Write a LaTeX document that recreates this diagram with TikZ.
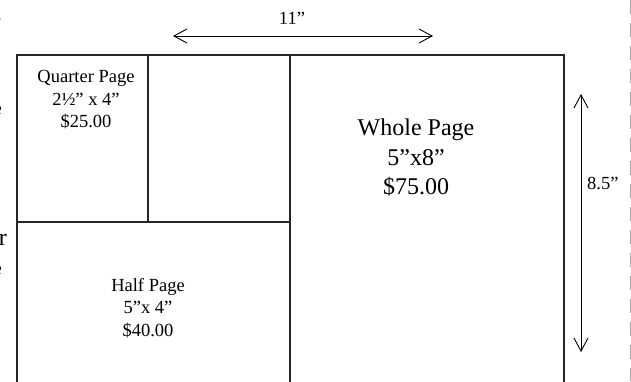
\documentclass[tikz,border=0pt]{standalone}
\usepackage{fontspec}
\setmainfont{Liberation Serif}
\usetikzlibrary{arrows.meta}
\tikzset{
  frame/.style={line width=1.5pt,draw=black!85},
  dimarrow/.style={line width=0.9pt,{Straight Barb[length=13pt,width=14pt]}-{Straight Barb[length=13pt,width=14pt]}},
  adtext/.style={align=center,inner sep=0pt,font=\fontsize{18.5}{22.5}\selectfont},
  bigtext/.style={align=center,inner sep=0pt,font=\fontsize{24}{29.5}\selectfont},
  cut/.style={anchor=east,inner sep=0pt,font=\fontsize{24}{28}\selectfont}
}
\begin{document}
\begin{tikzpicture}[x=1pt,y=-1pt]
\useasboundingbox (0,0) rectangle (631,381);
% page outline
\coordinate (tl) at (17,55);
\coordinate (tr) at (564,55);
\coordinate (tm) at (290,55);
\draw[frame] (17,390) |- (tr) -- (564,390);
\draw[frame] (tm) -- (290,390);
\draw[frame] (17,222) -- (290,222);
\draw[frame] (148,55) -- (148,222);
% ads
\node[adtext] (quarter) at (86,100) {Quarter Page\\2½” x 4”\\\$25.00};
\node[adtext] (half) at (148,308) {Half Page\\5”x 4”\\\$40.00};
\node[bigtext] (whole) at (416,158) {Whole Page\\5”x8”\\\$75.00};
% dimensions
\coordinate (wl) at (173,36);
\coordinate (wr) at (433,36);
\draw[dimarrow] (wl) -- (wr);
\node[adtext] (width) at (292,18) {11”};
\coordinate (ht) at (581,94);
\coordinate (hb) at (581,352);
\draw[dimarrow] (ht) -- (hb);
\node[adtext,anchor=west] (height) at (587,183) {8.5”};
% cut edge
\draw[gray!70,line width=1pt,dash pattern=on 14pt off 9pt] (630,0) -- (630,381);
\node[cut] (cuta) at (7,240) {ar};
\node[cut,font=\fontsize{18.5}{22}\selectfont] (cutb) at (2,110) {e};
\node[cut,font=\fontsize{18.5}{22}\selectfont] (cutc) at (2,270) {e};
\node[cut,font=\fontsize{18.5}{22}\selectfont] (cutd) at (2,20) {.};
\end{tikzpicture}
\end{document}
